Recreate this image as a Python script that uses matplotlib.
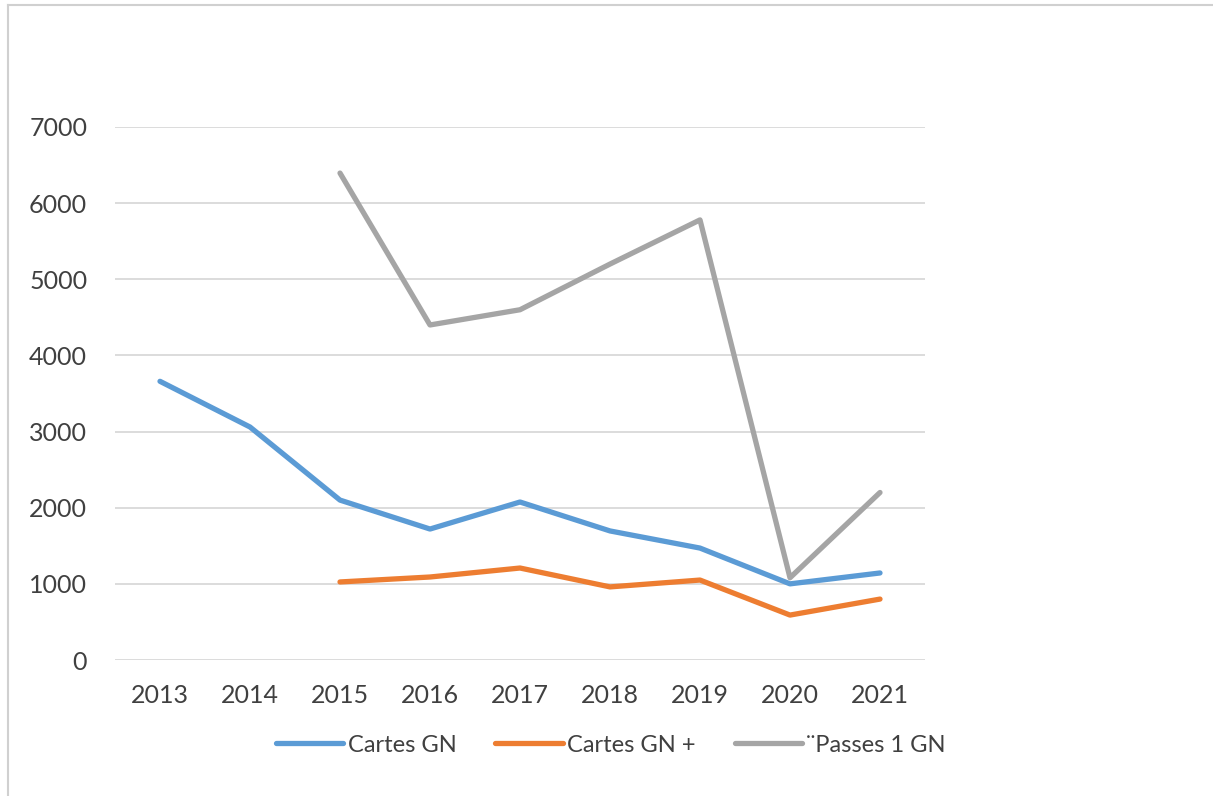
"""Cartes GN / Cartes GN+ / Passes 1 GN, 2013-2021 — line chart"""

import matplotlib
matplotlib.use("Agg")
import matplotlib.pyplot as plt
from matplotlib.lines import Line2D

plt.rcParams["font.family"] = ["Lato", "DejaVu Sans"]

years = ["2013", "2014", "2015", "2016", "2017", "2018", "2019", "2020", "2021"]
cartes_gn = [3660, 3060, 2100, 1720, 2075, 1695, 1470, 1000, 1143]
cartes_gn_plus = [None, None, 1025, 1090, 1208, 960, 1050, 590, 800]
passes_1_gn = [None, None, 6395, 4400, 4600, 5200, 5780, 1080, 2200]

BLUE = "#5B9BD5"
ORANGE = "#ED7D31"
GRAY = "#A5A5A5"
GRID = "#D9D9D9"
TXT = "#404040"

W, H = 1213, 796
fig = plt.figure(figsize=(W / 100, H / 100), dpi=100)
ax = fig.add_axes([115 / W, 1 - 660 / H, 810 / W, 533 / H])

x = list(range(len(years)))
def _clean(vals):
    return [float("nan") if v is None else v for v in vals]

ax.plot(x, _clean(cartes_gn), color=BLUE, lw=3.8, solid_capstyle="round", label="Cartes GN")
ax.plot(x, _clean(cartes_gn_plus), color=ORANGE, lw=3.8, solid_capstyle="round", label="Cartes GN +")
ax.plot(x, _clean(passes_1_gn), color=GRAY, lw=3.8, solid_capstyle="round", label="¨Passes 1 GN")

ax.set_xlim(-0.5, len(years) - 0.5)
ax.set_ylim(0, 7000)
ax.set_yticks(range(0, 7001, 1000))
ax.set_xticks(x)
ax.set_xticklabels(years)
ax.grid(axis="y", color=GRID, linewidth=1.3)
ax.set_axisbelow(True)
for s in ax.spines.values():
    s.set_visible(False)
ax.tick_params(length=0, colors=TXT, labelsize=18)
ax.tick_params(axis="y", pad=20)
ax.tick_params(axis="x", pad=17)

leg = fig.legend(loc="center", bbox_to_anchor=(611 / W, 1 - 745 / H), ncol=3,
                 frameon=False, fontsize=17, handlelength=2.84, handletextpad=0.2,
                 columnspacing=1.65)
for t in leg.get_texts():
    t.set_color(TXT)

# frame of the cropped chart area
fig.add_artist(Line2D([8 / W, 8 / W], [0, 1 - 5 / H], transform=fig.transFigure, color="#D0D0D0", lw=1.5))
fig.add_artist(Line2D([8 / W, 1], [1 - 5 / H, 1 - 5 / H], transform=fig.transFigure, color="#D0D0D0", lw=1.5))

fig.savefig("out.png", dpi=100, facecolor="white")
plt.close(fig)
